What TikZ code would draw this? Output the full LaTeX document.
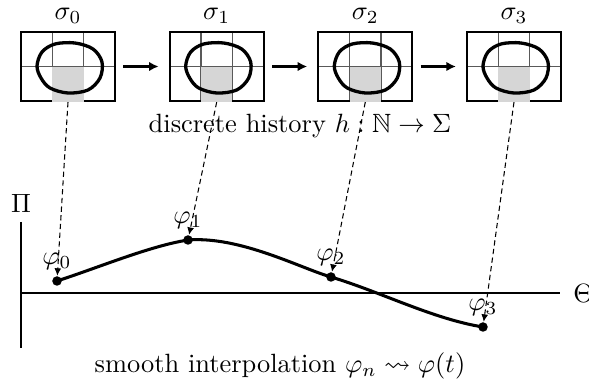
\documentclass[tikz,border=0pt]{standalone}
\usepackage{amsmath,amssymb}
\usetikzlibrary{arrows.meta,positioning}

\begin{document}
\begin{tikzpicture}[
    x=0.0133cm, y=-0.0133cm,
    >=Latex,
    frame/.style={minimum width=1.2502cm, minimum height=0.9177cm, inner sep=0pt},
    gridline/.style={draw=black!65, line width=0.45pt},
    cell/.style={fill=black!16},
    blob/.style={line width=1.25pt},
    flow/.style={-{Latex[length=3.6pt,width=3.6pt]}, line width=0.9pt, shorten <=3pt, shorten >=4pt},
    proj/.style={-{Latex[length=2.8pt,width=2.6pt]}, line width=0.4pt, dash pattern=on 2pt off 1.3pt},
    axis/.style={line width=0.75pt},
    curve/.style={line width=1.15pt},
    dot/.style={circle, fill=black, minimum size=3.6pt, inner sep=0pt},
    lab/.style={inner sep=2pt}
]
\useasboundingbox (0,0) rectangle (589,383);

% discrete states
\foreach \i/\x in {0/68, 1/216.7, 2/365.3, 3/514} {
    \node[frame] (s\i) at (\x,66.5) {};
    \begin{scope}[shift={(\x,66.5)}]
        \draw[gridline] (-15.7,-34.5) -- (-15.7,34.5) (15.7,-34.5) -- (15.7,34.5)
            (-47,0) -- (47,0);
        \draw[line width=0.8pt] (-47,-34.5) rectangle (47,34.5);
        \fill[cell] (-15.7,0.3) rectangle (15.7,35.6);
        \draw[blob] plot[smooth cycle, tension=0.55] coordinates {(-31,-0.5) (-26,-14.5) (-13,-22.5) (7,-23.5)
            (25,-17.5) (34,-4.5) (32,11.5) (20,23.5) (0,26.5) (-18,21.5) (-27,11.5)};
        \coordinate (g\i) at (0,35.6);
    \end{scope}
    \node[above=-0.5pt of s\i] (t\i) {$\sigma_{\i}$};
}
\foreach \a/\b in {0/1, 1/2, 2/3}
    \draw[flow] (s\a.east) -- (s\b.west);
\node (hist) at (300,126) {discrete history $h:\mathbb{N}\to\Sigma$};

% axes
\coordinate (ytop) at (21,222);
\coordinate (ybot) at (21,348);
\coordinate (xorg) at (21,293);
\coordinate (xend) at (560,293);
\draw[axis] (ytop) -- (ybot);
\draw[axis] (xorg) -- (xend);
\node[above=0pt of ytop] (pi) {$\Pi$};
\node[right=1.5pt of xend] (theta) {$\Theta$};

% interpolated curve
\foreach \n/\px/\py in {0/57/281, 1/188/240, 2/331/277, 3/483/327}
    \coordinate (c\n) at (\px,\py);
\draw[curve] (c0) .. controls (100,267) and (150,246) .. (c1)
    .. controls (240,236) and (300,268) .. (c2)
    .. controls (381,292) and (433,319) .. (c3);
\foreach \n in {0,...,3} {
    \node[dot] (p\n) at (c\n) {};
    \node[lab, above=0pt of p\n] (l\n) {$\varphi_{\n}$};
    \draw[proj] (g\n) -- (p\n);
}
\node (interp) at (280,366) {smooth interpolation $\varphi_n\rightsquigarrow\varphi(t)$};
\end{tikzpicture}
\end{document}
